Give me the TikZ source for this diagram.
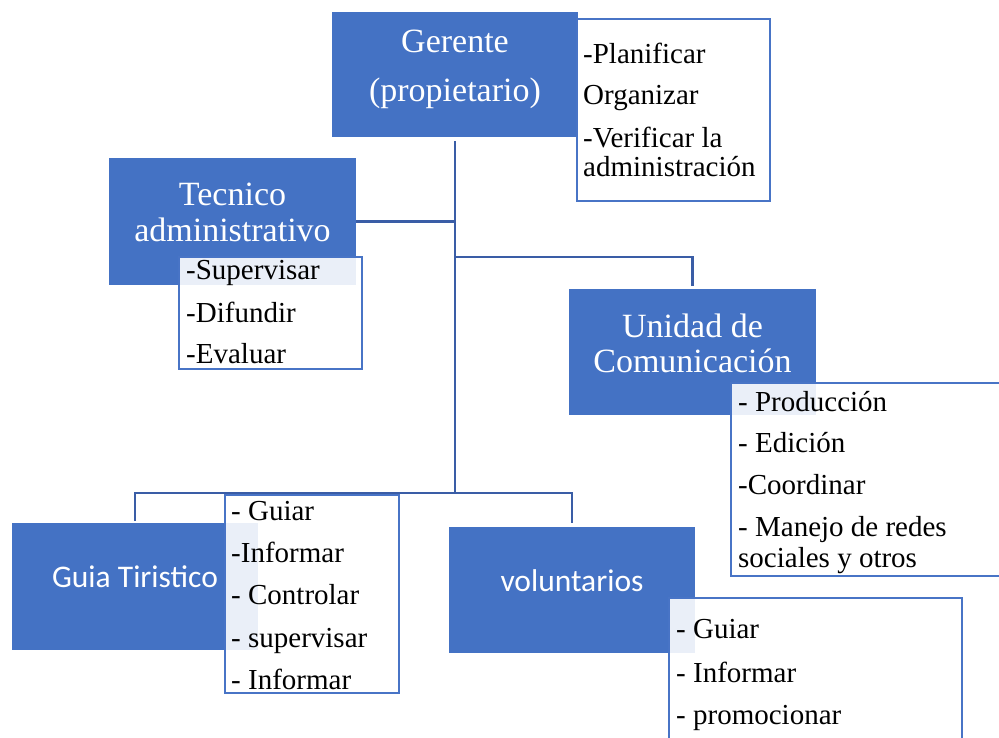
\documentclass[tikz,border=0pt]{standalone}
\usepackage{fontspec}
\setmainfont{Liberation Serif}
\newfontfamily\carlitofont{Carlito}
\definecolor{boxblue}{HTML}{4472C4}
\definecolor{lineblue}{HTML}{3A5DA6}
\definecolor{listblue}{HTML}{4874C6}
\tikzset{
  bluebox/.style={fill=boxblue, draw=none, rectangle, inner sep=0pt, outer sep=0pt, anchor=north west},
  listbox/.style={draw=listblue, line width=2.4pt, fill=white, fill opacity=0.89, rectangle, inner sep=0pt, outer sep=0pt, anchor=north west},
  conn/.style={draw=lineblue, line width=2.8pt},
  mainlbl/.style={text=white, font=\fontsize{34}{40}\selectfont, inner sep=0pt, anchor=base},
  sanslbl/.style={text=white, font=\carlitofont\fontsize{31.5}{38}\selectfont, inner sep=0pt, anchor=base},
  item/.style={text=black, font=\fontsize{29}{34}\selectfont, inner sep=0pt, anchor=base west}
}
\begin{document}
\begin{tikzpicture}[x=1pt,y=-1pt]
\clip (0,0) rectangle (999,737);
\fill[white] (0,0) rectangle (999,737);
% blue boxes
\node[bluebox, minimum width=246pt, minimum height=125pt] (ger) at (332,12) {};
\node[bluebox, minimum width=247pt, minimum height=127pt] (tec) at (109,158) {};
\node[bluebox, minimum width=247pt, minimum height=126pt] (uni) at (569,289) {};
\node[bluebox, minimum width=246pt, minimum height=127pt] (guia) at (12,523) {};
\node[bluebox, minimum width=246pt, minimum height=126pt] (vol) at (449,527) {};
% connectors
\coordinate (jb) at (455,493);
\coordinate (ju) at (455,257);
\draw[conn] ([yshift=-4pt]ger.south) -- (jb);
\draw[conn] (tec.east) -- (tec.east -| ger.south);
\draw[conn] (ju) -| ([yshift=3pt]uni.north);
\draw[conn] ([yshift=2pt]guia.north) |- (jb) -| ([yshift=4pt]vol.north);
% list boxes
\node[listbox, minimum width=193pt, minimum height=182pt] (planL) at (577,19) {};
\node[listbox, minimum width=183pt, minimum height=112pt] (tecL) at (179,257) {};
\node[listbox, minimum width=285pt, minimum height=193pt] (uniL) at (731,383) {};
\node[listbox, minimum width=174pt, minimum height=198pt] (guiaL) at (225,495) {};
\node[listbox, minimum width=293pt, minimum height=160pt] (volL) at (669,598) {};
% main labels
\node[mainlbl] (gerT1) at (455,52) {Gerente};
\node[mainlbl] (gerT2) at (455,101) {(propietario)};
\node[mainlbl] (tecT1) at (232.5,205) {Tecnico};
\node[mainlbl] (tecT2) at (232.5,241) {administrativo};
\node[mainlbl] (uniT1) at (692.5,337) {Unidad de};
\node[mainlbl] (uniT2) at (692.5,372) {Comunicación};
\node[sanslbl] (guiaT) at (135,587) {Guia Tiristico};
\node[sanslbl] (volT) at (572,591) {voluntarios};
% list items
\node[item] (p1) at (583,63) {-Planificar};
\node[item] (p2) at (583,104) {Organizar};
\node[item] (p3) at (583,147) {-Verificar la};
\node[item] (p4) at (583,176) {administración};
\node[item] (t1) at (186,279) {-Supervisar};
\node[item] (t2) at (186,322) {-Difundir};
\node[item] (t3) at (186,363) {-Evaluar};
\node[item] (u1) at (738,411) {- Producción};
\node[item] (u2) at (738,452) {- Edición};
\node[item] (u3) at (738,494) {-Coordinar};
\node[item] (u4) at (738,536) {- Manejo de redes};
\node[item] (u5) at (738,567) {sociales y otros};
\node[item] (g1) at (231,520) {- Guiar};
\node[item] (g2) at (231,562) {-Informar};
\node[item] (g3) at (231,604) {- Controlar};
\node[item] (g4) at (231,647) {- supervisar};
\node[item] (g5) at (231,689) {- Informar};
\node[item] (v1) at (676,638) {- Guiar};
\node[item] (v2) at (676,682) {- Informar};
\node[item] (v3) at (676,724) {- promocionar};
\end{tikzpicture}
\end{document}
